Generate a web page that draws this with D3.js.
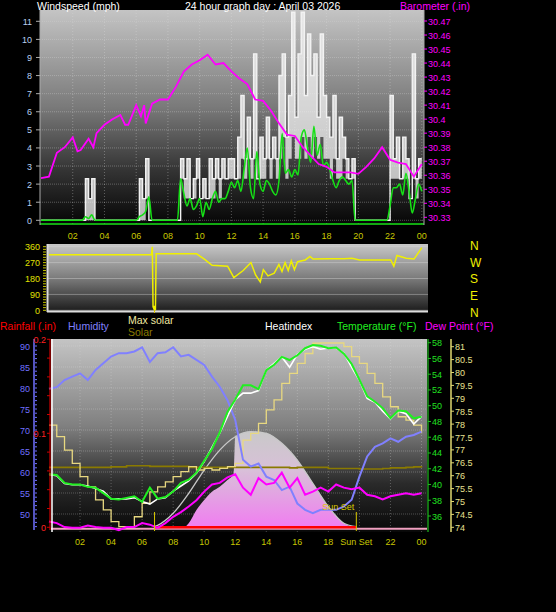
<!DOCTYPE html>
<html><head><meta charset="utf-8">
<script src="https://cdn.jsdelivr.net/npm/d3@7/dist/d3.min.js"></script>
<style>body{margin:0;background:#000}svg{display:block}text{font-family:"Liberation Sans",Arial,sans-serif}</style>
</head><body><svg id="c" width="556" height="612"></svg>
<script>
// ---------- DATA ----------
const hourTicks = ["02","04","06","08","10","12","14","16","18","20","22","00"];
const windTicks = [0,1,2,3,4,5,6,7,8,9,10,11];
const baroTicks = [30.33,30.34,30.35,30.36,30.37,30.38,30.39,30.4,30.41,30.42,30.43,30.44,30.45,30.46,30.47];
const dirTicks = [0,90,180,270,360];
const humTicks = [50,55,60,65,70,75,80,85,90];
const rainTicks = [0,0.1,0.2];
const tempTicks = [36,38,40,42,44,46,48,50,52,54,56,58];
const hiTicks = [74,74.5,75,75.5,76,76.5,77,77.5,78,78.5,79,79.5,80,80.5,81];

const baroHours = [0,0.5,1,1.5,2,2.3,2.5,3,3.3,3.5,4,4.5,5,5.3,5.5,6,6.3,6.5,6.6,7,7.5,8,8.5,9,9.5,10,10.5,11,11.5,12,12.5,13,13.5,14,14.5,15,15.5,16,16.5,17,17.5,18,18.5,19,19.5,20,20.5,21,21.5,22,22.5,23,23.5,24];
const baroVals = [30.358,30.359,30.376,30.380,30.387,30.377,30.378,30.386,30.380,30.390,30.396,30.400,30.403,30.396,30.396,30.410,30.402,30.410,30.397,30.411,30.414,30.414,30.423,30.434,30.439,30.442,30.446,30.439,30.440,30.434,30.429,30.425,30.414,30.413,30.406,30.397,30.389,30.388,30.380,30.374,30.368,30.366,30.362,30.362,30.362,30.361,30.366,30.372,30.380,30.371,30.369,30.368,30.359,30.368];

const gustVals = [0,0,0,0,0,0,0,0,0,0,0,0,0,0, 2.3,1.2,2.3,0, 0,0,0,0,0,0,0,0,0,0,0,0,0, 2.3,1.2,3.4,0, 0,0,0,0,0,0,0,0,0,
 3.4,2.3,3.4,1.2,2.3,3.4,1.2,2.3,1.2,3.4,2.3,3.4,2.3,3.4,2.3,3.4,3.4,2.3,4.6,6.9,3.4,5.7,3.4,9.2,2.3,4.6,3.4,5.7,3.4,4.6,3.4,8.0,9.2,4.6,6.9,11.5,5.7,9.2,11.5,6.9,10.3,8.0,9.2,5.7,10.3,6.9,5.7,4.6,6.9,3.4,5.7,4.6,3.4,2.3,3.4,0,
 0,0,0,0,0,0,0,0,0,0, 6.9,3.4,4.6,2.3,4.6,3.4,1.2,9.2,2.3,3.4,3.4];
const gustLow = [0,0,0,0,0,0,0,0,0,0,0,0,0,0, 0,0,0,0, 0,0,0,0,0,0,0,0,0,0,0,0,0, 0,0,1.2,0, 0,0,0,0,0,0,0,0,0,
 2.3,1.2,1.2,1.2,1.2,2.3,1.2,1.2,1.2,1.2,1.2,2.3,1.2,2.3,2.3,2.3,2.3,2.3,2.3,3.4,2.3,3.4,2.3,3.4,2.3,2.3,2.3,3.4,2.3,3.4,2.3,3.4,4.6,2.3,3.4,4.6,3.4,3.4,4.6,3.4,4.6,3.4,4.6,3.4,4.6,3.4,3.4,2.3,3.4,2.3,2.3,3.4,2.3,2.3,2.3,0,
 0,0,0,0,0,0,0,0,0,0, 2.3,2.3,2.3,2.3,2.3,2.3,1.2,2.3,1.2,2.3,2.3];
const avgVals = [0,0,0,0,0,0,0,0,0,0,0,0,0,0, 0.2,0.1,0.3,0, 0,0,0,0,0,0,0,0,0,0,0,0,0, 0.2,0.3,0.5,1.3, 0,0,0,0,0,0,0,0,0,
 2.3,1.5,0.8,1.2,0.6,0.8,1.2,0.2,1.0,0.6,1.2,1.6,1.0,1.2,1.2,1.6,2.1,1.8,2.2,1.6,2.8,4.0,1.8,1.2,3.8,2.0,1.6,2.2,2.0,1.6,1.4,2.2,4.8,2.6,2.8,2.4,2.8,2.5,4.6,5.0,4.0,3.2,5.2,3.6,4.2,3.0,3.2,2.8,2.2,1.8,2.2,2.4,2.2,2.0,2.2,0,
 0,0,0,0,0,0,0,0,0,0, 0.8,1.8,1.8,2.0,1.4,2.6,1.6,0.4,1.2,2.0,1.6];

const dirHours = [0,6.6,6.65,6.7,6.75,6.8,6.85,6.9,9.5,10,10.5,11.5,11.9,12.5,13,13.3,13.6,13.8,14.1,14.5,14.8,15.0,15.2,15.4,15.6,15.8,16.0,16.5,16.8,17,18,19,19.5,20,22,22.2,22.4,23,23.5,24];
const dirVals = [315,315,360,20,10,25,0,320,320,290,255,250,185,225,270,200,160,230,195,210,260,220,270,225,280,230,275,285,305,290,292,292,295,285,285,250,310,295,290,355];

const hours = [0,0.5,1,1.5,2,2.5,3,3.5,4,4.5,5,5.5,6,6.5,7,7.5,8,8.5,9,9.5,10,10.5,11,11.5,12,12.5,13,13.5,14,14.5,15,15.5,16,16.5,17,17.5,18,18.5,19,19.5,20,20.5,21,21.5,22,22.5,23,23.5,24];
const humidity = [79.8,80.2,81.9,82.7,83.5,81.9,84.3,85.9,87.5,88.3,88.3,88.7,89.7,86.2,88.3,88.5,89.7,87.5,87.9,86.7,85.5,82.7,80.3,77.1,72.4,62.9,61.3,62.0,58.9,58.1,55.7,56.5,52.5,51.0,50.2,51.0,51.0,51.0,51.8,53.4,58.9,63.7,66.0,66.8,68.0,67.2,68.4,68.8,69.6];
const temperature = [41.3,41.2,40.2,40.0,40.0,39.7,39.6,38.9,38.2,38.1,38.3,38.5,37.8,39.6,38.2,38.4,39.1,40.2,40.6,41.5,43.0,44.5,46.6,49.2,50.8,52.6,52.6,52.1,54.5,55.2,56.2,55.8,56.4,57.3,57.7,57.6,57.3,57.4,56.6,55.3,53.3,51.2,50.5,49.7,48.4,49.4,49.3,48.4,48.6];
const heatIndex = [76.05,76.0,75.7,75.65,75.65,75.6,75.5,75.4,75.1,75.1,75.1,75.15,75.0,74.9,75.1,75.15,75.4,75.6,75.8,76.1,76.55,77.1,77.65,78.3,78.95,79.2,79.2,79.3,80.1,80.35,80.6,80.2,80.7,80.9,81.0,80.9,80.95,80.95,80.75,80.2,79.7,79.0,78.85,78.5,78.2,78.5,78.4,78.0,78.3];
const dewPoint = [35.3,35.1,34.6,34.5,34.5,34.8,34.6,34.5,34.5,34.2,34.6,34.6,35.1,34.9,34.5,35.1,35.9,36.5,37.2,38.0,39.1,40.0,40.2,40.9,41.3,39.6,38.7,40.8,40.0,40.2,41.5,39.6,40.8,38.7,39.1,39.6,39.1,40.0,39.6,39.4,39.6,38.7,38.5,38.1,38.5,38.7,38.9,38.7,38.9];
const maxSolar = [387,343,292,241,191,152,102,64,19,0,0,38,89,133,152,171,191,210,229,216,222,216,222,229,241,330,356,394,445,483,546,584,622,660,699,700,700,700,686,648,622,584,546,495,457,419,406,387,356];
const solar = [226,226,226,226,226,226,226,226,228,228,232,232,232,230,230,230,230,230,226,226,226,226,226,226,226,226,226,226,226,226,226,224,226,226,226,226,222,222,222,222,220,220,220,222,224,224,226,228,226];
const clearHours = [6.8,7,8,9,10,11,12,13,14,15,16,17,18,19,19.8];
const clearSky = [0,5,51,127,216,292,343,362,356,318,254,165,76,13,0];
const radHours = [8.8,9,9.5,10,10.5,11,11.5,11.9,12.0,13,14,15,16,17,18,19,19.5];
const radiation = [0,13,64,102,133,152,178,203,343,362,356,318,254,165,76,13,0];
const rainHours = [6.8,19.8];
const rainfall = [0,0];
const sunrise = 6.8, sunset = 19.8;

// ---------- DRAW ----------
const svg = d3.select("#c");
const defs = svg.append("defs");
function grad(id, stops){const g=defs.append("linearGradient").attr("id",id).attr("x1",0).attr("y1",0).attr("x2",0).attr("y2",1);
 stops.forEach(s=>g.append("stop").attr("offset",s[0]).attr("stop-color",s[1]));}
grad("bgTop",[[0,"#c4c4c4"],[0.45,"#7a7a7a"],[0.75,"#333"],[1,"#050505"]]);
grad("bgMid",[[0,"#c8c8c8"],[0.5,"#7c7c7c"],[1,"#1a1a1a"]]);
grad("bgBot",[[0,"#c4c4c4"],[0.45,"#808080"],[0.75,"#2a2a2a"],[1,"#080808"]]);
grad("radFill",[[0,"#c9c9c9"],[0.4,"#d8c0d8"],[1,"#f07ef0"]]);

function txt(x,y,s,c,anchor,size){svg.append("text").attr("x",x).attr("y",y).attr("fill",c).attr("font-size",size||10).attr("text-anchor",anchor||"start").text(s);}

// ===== TOP PANEL =====
const xT = d3.scaleLinear().domain([0,24]).range([41,421.8]);
const yW = d3.scaleLinear().domain([0,11]).range([220.3,21.3]);
const yB = d3.scaleLinear().domain([30.33,30.47]).range([217.3,21]);
svg.append("rect").attr("x",40).attr("y",10).attr("width",384).attr("height",215).attr("fill","url(#bgTop)");
const gT = svg.append("g");
windTicks.forEach(t=>gT.append("line").attr("x1",40).attr("x2",424).attr("y1",yW(t)).attr("y2",yW(t)).attr("stroke","#d8d8d8").attr("stroke-opacity",0.35).attr("stroke-dasharray","1,1"));
hourTicks.forEach((t,i)=>gT.append("line").attr("x1",xT(2*i+2)).attr("x2",xT(2*i+2)).attr("y1",10).attr("y2",225).attr("stroke","#e0e0e0").attr("stroke-opacity",0.35).attr("stroke-dasharray","1,2"));
const gustArea = d3.area().x((d,i)=>xT(i*0.2)).y0((d,i)=>yW(gustLow[i])).y1(d=>yW(d)).curve(d3.curveStepAfter);
gT.append("path").attr("d",gustArea(gustVals)).attr("fill","#f4f4f4").attr("fill-opacity",0.75);
const gustLine = d3.line().x((d,i)=>xT(i*0.2)).y(d=>yW(d)).curve(d3.curveStepAfter);
gT.append("path").attr("d",gustLine(gustVals)).attr("fill","none").attr("stroke","#f2f2f2").attr("stroke-width",1.4);
const avgLine = d3.line().x((d,i)=>xT(i*0.2)).y(d=>yW(d)).curve(d3.curveMonotoneX);
gT.append("path").attr("d",avgLine(avgVals)).attr("fill","none").attr("stroke","#16e016").attr("stroke-width",1.6);
gT.append("line").attr("x1",40).attr("x2",424).attr("y1",224).attr("y2",224).attr("stroke","#16e016").attr("stroke-width",1.5);
const baroLine = d3.line().x((d,i)=>xT(baroHours[i])).y(d=>yB(d));
gT.append("path").attr("d",baroLine(baroVals)).attr("fill","none").attr("stroke","#ff00ff").attr("stroke-width",1.8);
gT.append("line").attr("x1",40).attr("x2",40).attr("y1",10).attr("y2",225).attr("stroke","#aaa");
gT.append("line").attr("x1",424).attr("x2",424).attr("y1",10).attr("y2",225).attr("stroke","#aaa");
windTicks.forEach(t=>{txt(32,yW(t)+3.5,t,"#b8d0f0","end",9);gT.append("line").attr("x1",36).attr("x2",40).attr("y1",yW(t)).attr("y2",yW(t)).attr("stroke","#aaa");});
baroTicks.forEach(t=>{txt(428,yB(t)+3.5,String(+t.toFixed(2)),"#ff00ff","start",9);gT.append("line").attr("x1",424).attr("x2",427).attr("y1",yB(t)).attr("y2",yB(t)).attr("stroke","#ff00ff");});
hourTicks.forEach((t,i)=>txt(xT(2*i+2),239,t,"#c8c800","middle",9));
txt(37,10,"Windspeed (mph)","#fff","start",10.5);
txt(185,10,"24 hour graph day : April 03 2026","#fff","start",10.5);
txt(400,10,"Barometer (.in)","#ff00ff","start",10.5);

// ===== MIDDLE PANEL =====
const xM = d3.scaleLinear().domain([0,24]).range([49,421.8]);
const yD = d3.scaleLinear().domain([0,360]).range([310.3,246.7]);
svg.append("rect").attr("x",47).attr("y",244).attr("width",381).attr("height",68).attr("fill","url(#bgMid)");
dirTicks.forEach(t=>svg.append("line").attr("x1",47).attr("x2",428).attr("y1",yD(t)).attr("y2",yD(t)).attr("stroke","#ddd").attr("stroke-opacity",0.4));
svg.append("line").attr("x1",47).attr("x2",428).attr("y1",311.5).attr("y2",311.5).attr("stroke","#ddd").attr("stroke-width",2);
svg.append("line").attr("x1",47.5).attr("x2",47.5).attr("y1",244).attr("y2",312).attr("stroke","#ddd").attr("stroke-width",2);
const dirLine = d3.line().x((d,i)=>xM(dirHours[i])).y(d=>yD(d));
svg.append("path").attr("d",dirLine(dirVals)).attr("fill","none").attr("stroke","#f0f000").attr("stroke-width",1.5);
dirTicks.forEach(t=>txt(40,yD(t)+3.5,t,"#e0e000","end",9));
d3.range(0,361,15).forEach(t=>svg.append("line").attr("x1",43).attr("x2",46).attr("y1",yD(t)).attr("y2",yD(t)).attr("stroke","#c8c800"));
["N","W","S","E","N"].forEach((s,i)=>txt(470,250+i*16.7,s,"#f0f000","start",12));

// ===== BOTTOM PANEL =====
const xB = d3.scaleLinear().domain([0,24]).range([49,421.5]);
const yH = d3.scaleLinear().domain([50,90]).range([514,346]);
const yR = d3.scaleLinear().domain([0,0.2]).range([527.3,339.3]);
const yTp = d3.scaleLinear().domain([36,58]).range([516,342.7]);
const yHI = d3.scaleLinear().domain([74,81]).range([527.3,346.7]);
const yS = d3.scaleLinear().domain([0,700]).range([526.7,343]);
svg.append("rect").attr("x",51).attr("y",339).attr("width",376).attr("height",193).attr("fill","url(#bgBot)");
humTicks.forEach(t=>svg.append("line").attr("x1",51).attr("x2",427).attr("y1",yH(t)).attr("y2",yH(t)).attr("stroke","#ddd").attr("stroke-opacity",0.3).attr("stroke-dasharray","1,1"));
hourTicks.forEach((t,i)=>svg.append("line").attr("x1",xB(2*i+2)).attr("x2",xB(2*i+2)).attr("y1",339).attr("y2",532).attr("stroke","#ddd").attr("stroke-opacity",0.3).attr("stroke-dasharray","1,2"));
const radArea = d3.area().x((d,i)=>xB(radHours[i])).y0(yS(0)).y1(d=>yS(d)).curve(d3.curveMonotoneX);
svg.append("path").attr("d",radArea(radiation)).attr("fill","url(#radFill)");
const clearLine = d3.line().x((d,i)=>xB(clearHours[i])).y(d=>yS(d)).curve(d3.curveMonotoneX);
svg.append("path").attr("d",clearLine(clearSky)).attr("fill","none").attr("stroke","#c8c8c8").attr("stroke-width",1.3);
const sLine = d3.line().x((d,i)=>xB(hours[i])).y(d=>yS(d)).curve(d3.curveStepAfter);
svg.append("path").attr("d",sLine(solar)).attr("fill","none").attr("stroke","#8a7a00").attr("stroke-width",1.6);
svg.append("path").attr("d",sLine(maxSolar)).attr("fill","none").attr("stroke","#e8d880").attr("stroke-width",1.3);
svg.append("line").attr("x1",51).attr("x2",427).attr("y1",yR(0)+1.5).attr("y2",yR(0)+1.5).attr("stroke","#f0a0c0").attr("stroke-width",2);
const rLine = d3.line().x((d,i)=>xB(rainHours[i])).y(d=>yR(d));
svg.append("path").attr("d",rLine(rainfall)).attr("stroke","#ff0000").attr("stroke-width",2.5);
const mk = (arr,sc)=>d3.line().x((d,i)=>xB(hours[i])).y(d=>sc(d))(arr);
svg.append("path").attr("d",mk(humidity,yH)).attr("fill","none").attr("stroke","#8080ff").attr("stroke-width",2);
svg.append("path").attr("d",mk(heatIndex,yHI)).attr("fill","none").attr("stroke","#fff").attr("stroke-width",1.6);
svg.append("path").attr("d",mk(temperature,yTp)).attr("fill","none").attr("stroke","#20f020").attr("stroke-width",2);
svg.append("path").attr("d",mk(dewPoint,yTp)).attr("fill","none").attr("stroke","#ff00ff").attr("stroke-width",2);
[sunrise,sunset].forEach(h=>svg.append("line").attr("x1",xB(h)).attr("x2",xB(h)).attr("y1",512).attr("y2",531).attr("stroke","#d8c800"));
svg.append("line").attr("x1",xB(sunrise)).attr("x2",xB(sunrise)).attr("y1",310).attr("y2",313).attr("stroke","#d8c800");
txt(xB(sunset)-2,510,"Sun Set","#d8c800","end",9);
svg.append("line").attr("x1",52).attr("x2",52).attr("y1",339).attr("y2",532).attr("stroke","#fff").attr("stroke-width",1.5);
svg.append("line").attr("x1",34).attr("x2",34).attr("y1",339).attr("y2",530).attr("stroke","#7070ff").attr("stroke-width",1.5);
svg.append("line").attr("x1",50).attr("x2",50).attr("y1",339).attr("y2",530).attr("stroke","#cc0000").attr("stroke-width",1.2);
svg.append("line").attr("x1",428).attr("x2",428).attr("y1",339).attr("y2",532).attr("stroke","#20c020").attr("stroke-width",1.2);
svg.append("line").attr("x1",451).attr("x2",451).attr("y1",339).attr("y2",532).attr("stroke","#e0d870").attr("stroke-width",1.5);
d3.range(47,91,1).forEach(t=>svg.append("line").attr("x1",35).attr("x2",37).attr("y1",yH(t)).attr("y2",yH(t)).attr("stroke","#7070ff"));
humTicks.forEach(t=>txt(30,yH(t)+3.5,t,"#7070ff","end",9));
d3.range(0,0.201,0.02).forEach(t=>svg.append("line").attr("x1",47).attr("x2",50).attr("y1",yR(t)).attr("y2",yR(t)).attr("stroke","#cc0000"));
rainTicks.forEach(t=>txt(46,yR(t)+3.5,t,"#ff2020","end",9));
tempTicks.forEach(t=>{txt(432,yTp(t)+3.5,t,"#20e020","start",9);svg.append("line").attr("x1",428).attr("x2",431).attr("y1",yTp(t)).attr("y2",yTp(t)).attr("stroke","#20c020");});
hiTicks.forEach(t=>{txt(455,yHI(t)+3.5,t,"#e8e090","start",9);svg.append("line").attr("x1",451).attr("x2",454).attr("y1",yHI(t)).attr("y2",yHI(t)).attr("stroke","#e0d870");});
hourTicks.forEach((t,i)=>{ if(t!=="20") txt(xB(2*i+2),545,t,"#c8c800","middle",9); });
txt(xB(sunset),545,"Sun Set","#c8c800","middle",9);
txt(0,330,"Rainfall (.in)","#ff0000","start",10.5);
txt(68,330,"Humidity","#8080ff","start",10.5);
txt(128,324,"Max solar","#f0e8a0","start",10.5);
txt(128,336,"Solar","#8a7a00","start",10.5);
txt(265,330,"Heatindex","#fff","start",10.5);
txt(337,330,"Temperature (°F)","#20f020","start",10.5);
txt(425,330,"Dew Point (°F)","#ff00ff","start",10.5);
</script></body></html>
